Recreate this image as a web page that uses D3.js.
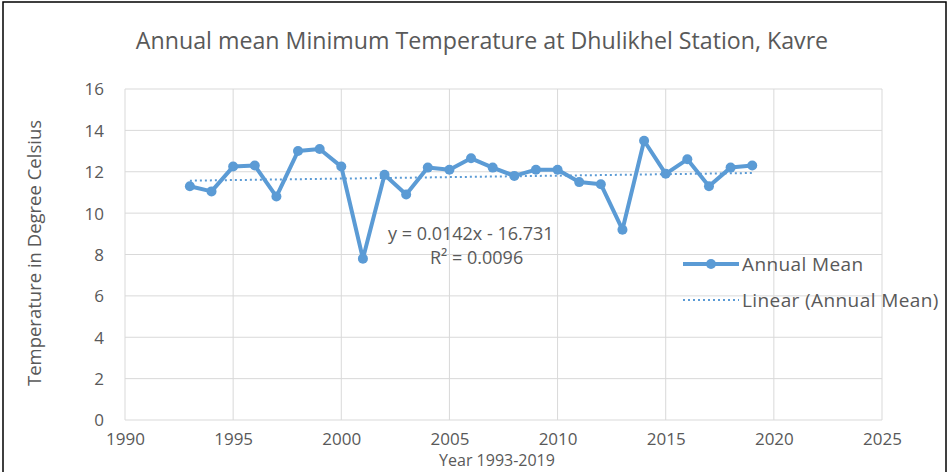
<!DOCTYPE html>
<html>
<head>
<meta charset="utf-8">
<script src="https://cdn.jsdelivr.net/npm/d3@7"></script>
<style>
  body { margin: 0; background: #fff; }
  text { font-family: "Open Sans", sans-serif; fill: #595959; }
</style>
</head>
<body>
<div id="chart"></div>
<script>
// Annual mean minimum temperature, Dhulikhel
var years = [1993, 1994, 1995, 1996, 1997, 1998, 1999, 2000, 2001, 2002, 2003, 2004, 2005, 2006,
             2007, 2008, 2009, 2010, 2011, 2012, 2013, 2014, 2015, 2016, 2017, 2018, 2019];
var annualMean = [11.3, 11.05, 12.25, 12.3, 10.8, 13.0, 13.1, 12.25, 7.8, 11.85, 10.9, 12.2, 12.1, 12.65,
                  12.2, 11.8, 12.1, 12.1, 11.5, 11.4, 9.2, 13.5, 11.9, 12.6, 11.3, 12.2, 12.3];
// Excel trendline shown on the chart
var trendSlope = 0.0142;
var trendIntercept = -16.731;
var xTicks = [1990, 1995, 2000, 2005, 2010, 2015, 2020, 2025];
var yTicks = [0, 2, 4, 6, 8, 10, 12, 14, 16];

var W = 948, H = 472;
var margin = {top: 89, right: 66, bottom: 52, left: 125};
var width = W - margin.left - margin.right,
    height = H - margin.top - margin.bottom;

var svg = d3.select("#chart").append("svg")
    .attr("width", W)
    .attr("height", H);

// outer frame (bottom edge is cut off in the original)
svg.append("rect")
    .attr("x", 3).attr("y", 2)
    .attr("width", W - 5).attr("height", H + 10)
    .attr("fill", "none")
    .attr("stroke", "#000")
    .attr("stroke-width", 1.5);

var x = d3.scaleLinear().domain([1990, 2025]).range([0, width]);
var y = d3.scaleLinear().domain([0, 16]).range([height, 0]);

var g = svg.append("g")
    .attr("transform", "translate(" + margin.left + "," + margin.top + ")");

// gridlines
g.selectAll(".hgrid").data(yTicks).enter().append("line")
    .attr("x1", 0).attr("x2", width)
    .attr("y1", function(d) { return y(d); })
    .attr("y2", function(d) { return y(d); })
    .attr("stroke", "#d9d9d9").attr("stroke-width", 1);
g.selectAll(".vgrid").data(xTicks).enter().append("line")
    .attr("y1", 0).attr("y2", height)
    .attr("x1", function(d) { return x(d); })
    .attr("x2", function(d) { return x(d); })
    .attr("stroke", "#d9d9d9").attr("stroke-width", 1);

// axes (tick labels only)
var xAxis = g.append("g")
    .attr("transform", "translate(0," + height + ")")
    .call(d3.axisBottom(x).tickValues(xTicks).tickFormat(d3.format("d")).tickSize(0).tickPadding(13));
xAxis.select(".domain").remove();
xAxis.selectAll("text").style("font-size", "17px").attr("fill", "#595959");

var yAxis = g.append("g")
    .call(d3.axisLeft(y).tickValues(yTicks).tickSize(0).tickPadding(21));
yAxis.select(".domain").remove();
yAxis.selectAll("text").style("font-size", "17px").attr("fill", "#595959").attr("dy", "0.35em");

// trend line
var trendYears = [years[0], years[years.length - 1]];
g.append("line")
    .attr("x1", x(trendYears[0])).attr("y1", y(trendSlope * trendYears[0] + trendIntercept))
    .attr("x2", x(trendYears[1])).attr("y2", y(trendSlope * trendYears[1] + trendIntercept))
    .attr("stroke", "#5b9bd5").attr("stroke-width", 2)
    .attr("stroke-dasharray", "2,3");

// annual mean line + markers
var line = d3.line()
    .x(function(d, i) { return x(years[i]); })
    .y(function(d) { return y(d); });

g.append("path")
    .datum(annualMean)
    .attr("d", line)
    .attr("fill", "none")
    .attr("stroke", "#5b9bd5")
    .attr("stroke-width", 4)
    .attr("stroke-linejoin", "round");

g.selectAll(".pt").data(annualMean).enter().append("circle")
    .attr("cx", function(d, i) { return x(years[i]); })
    .attr("cy", function(d) { return y(d); })
    .attr("r", 5)
    .attr("fill", "#5b9bd5");

// trendline equation
g.append("text")
    .attr("x", 263).attr("y", 151)
    .style("font-size", "18px")
    .text("y = 0.0142x - 16.731");
var r2 = g.append("text")
    .attr("x", 305).attr("y", 175)
    .style("font-size", "18px");
r2.append("tspan").text("R");
r2.append("tspan").text("²");
r2.append("tspan").text(" = 0.0096");

// title
svg.append("text")
    .attr("x", 482).attr("y", 49)
    .attr("text-anchor", "middle")
    .style("font-size", "23.2px")
    .text("Annual mean Minimum  Temperature at Dhulikhel Station, Kavre");

// axis titles
svg.append("text")
    .attr("transform", "translate(41,253) rotate(-90)")
    .attr("text-anchor", "middle")
    .style("font-size", "18.5px")
    .text("Temperature in Degree Celsius");
svg.append("text")
    .attr("x", 497).attr("y", 466)
    .attr("text-anchor", "middle")
    .style("font-size", "16px")
    .text("Year 1993-2019");

// legend
var legend = svg.append("g").attr("transform", "translate(683,264)");
legend.append("line")
    .attr("x1", 0).attr("x2", 56).attr("y1", 0).attr("y2", 0)
    .attr("stroke", "#5b9bd5").attr("stroke-width", 4);
legend.append("circle").attr("cx", 28).attr("cy", 0).attr("r", 5).attr("fill", "#5b9bd5");
legend.append("text").attr("x", 59).attr("y", 7).style("font-size", "19px")
    .style("letter-spacing", "0.4px").text("Annual Mean");
legend.append("line")
    .attr("x1", 0).attr("x2", 56).attr("y1", 36).attr("y2", 36)
    .attr("stroke", "#5b9bd5").attr("stroke-width", 2)
    .attr("stroke-dasharray", "2,3");
legend.append("text").attr("x", 59).attr("y", 43).style("font-size", "19px")
    .style("letter-spacing", "0.4px").text("Linear (Annual Mean)");
</script>
</body>
</html>
